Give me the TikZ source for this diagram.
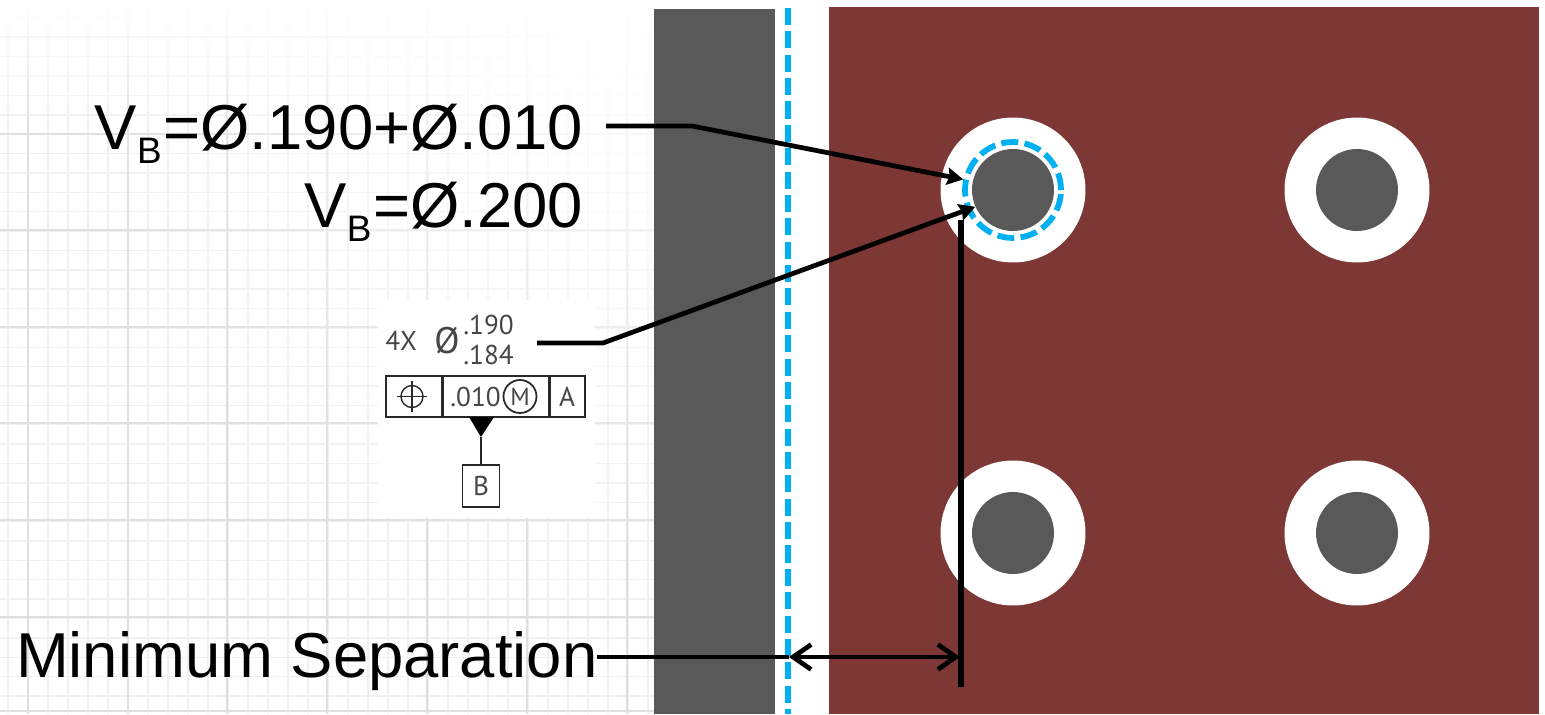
\documentclass[tikz,border=0pt]{standalone}
\usepackage{fontspec}
\setmainfont{Liberation Sans}
\newfontfamily\framefont{PT Sans}
\usepackage{tikz}
\usetikzlibrary{arrows.meta,fadings}
\definecolor{platered}{RGB}{125,55,53}
\definecolor{pingray}{RGB}{89,89,89}
\definecolor{zoneblue}{RGB}{0,176,240}
\definecolor{framegray}{RGB}{40,40,40}
\definecolor{frametext}{RGB}{70,70,70}
\tikzfading[name=gridfade,inner color=transparent!12,outer color=transparent!100]
\newcommand{\vbtext}{V\raisebox{-8.5pt}{\fontsize{21}{21}\selectfont B}\hspace{1pt}}
\tikzset{
 zonedash/.style={draw=zoneblue,line width=3.3pt,dash pattern=on 9.7pt off 3.6pt},
 hole/.style={circle,fill=white,minimum size=2.9cm,inner sep=0pt},
 pin/.style={circle,fill=pingray,minimum size=1.64cm,inner sep=0pt},
 zone/.style={circle,zonedash,minimum size=1.92cm,inner sep=0pt},
 biglabel/.style={inner sep=0pt,font=\fontsize{36.1}{36.1}\selectfont,anchor=base east},
 frametxt/.style={inner sep=0pt,text=frametext,font=\framefont\fontsize{15.5}{15.5}\selectfont},
 framecell/.style={draw=framegray,line width=1.1pt,inner sep=0pt,minimum height=.82cm},
 leader/.style={line width=2.7pt,line join=round},
 tip/.style={-{Stealth[length=.32cm,width=.34cm,inset=.04cm]}},
 dimtip/.style={{Straight Barb[length=.36cm,width=.5cm]}-{Straight Barb[length=.36cm,width=.5cm]}},
}
\begin{document}
\begin{tikzpicture}[x=0.02cm,y=-0.02cm]
\useasboundingbox (0,0) rectangle (1545,714);
\fill[white] (0,0) rectangle (1545,714);

% graph paper behind the callouts
\foreach \gx in {8,28,...,648} {
\draw[black!6,line width=.8pt] (\gx,0) -- (\gx,714);
}
\foreach \gk in {0,...,35} {
\pgfmathsetmacro{\gy}{18+19.37*\gk}
\draw[black!6,line width=.8pt] (0,\gy) -- (654,\gy);
}
\foreach \gx in {28,128,227,327,427,527,627} {
\draw[black!12,line width=1.1pt] (\gx,0) -- (\gx,714);
}
\foreach \gy in {37,134,230,327,423,520,617,711} {
\draw[black!12,line width=1.1pt] (0,\gy) -- (654,\gy);
}
\fill[white,path fading=gridfade] (600,60) circle (520);
\fill[white,path fading=south] (0,0) rectangle (654,130);
\fill[white] (378,300) rectangle (595,518);

% part and mating plate
\fill[pingray] (654,9) rectangle (775,714);
\fill[platered] (829,7) rectangle (1539,714);

% holes with pins
\foreach \hname/\hx/\hy in {a/1013/190,b/1357/190,c/1013/533,d/1357/533} {
\node[hole] (hole\hname) at (\hx,\hy) {};
\node[pin] (pin\hname) at (\hx,\hy) {};
}
\node[zone] (zonea) at (1013,190) {};

% zone edge
\coordinate (edgetop) at (788,8);
\coordinate (edgebot) at (788,714);
\draw[zonedash] (edgetop) -- (edgebot);

% callouts
\node[biglabel] (vbsum) at (583.5,149) {\vbtext=Ø.190+Ø.010};
\node[biglabel] (vbres) at (583.5,227) {\vbtext=Ø.200};
\node[biglabel] (minsep) at (598,677) {Minimum Separation};

\coordinate (sumstart) at (606,126);
\coordinate (sumbend) at (692,126);
\draw[leader,tip] (sumstart) -- (sumbend) -- (zonea.168);

\coordinate (framestart) at (537,343);
\coordinate (framebend) at (603,343);
\draw[leader,tip] (framestart) -- (framebend) -- (pina.204);

\coordinate (limittop) at (961,220);
\coordinate (limitbot) at (961,687);
\draw[line width=2.9pt] (limittop) -- (limitbot);

\coordinate (dimleft) at (789,657);
\coordinate (dimright) at (960,657);
\coordinate (sepend) at (597,657);
\draw[leader] (sepend) -- (dimleft);
\draw[leader,dimtip] (dimleft) -- (dimright);

% feature control frame
\node[frametxt,anchor=west] (framecount) at (385,341) {4X};
\node[frametxt,font=\framefont\fontsize{21}{21}\selectfont] (framedia) at (447,341) {Ø};
\node[frametxt,anchor=west] (framehi) at (463,325) {.190};
\node[frametxt,anchor=west] (framelo) at (463,355) {.184};
\node[framecell,minimum width=1.12cm] (cellsym) at (414,396.5) {};
\node[framecell,minimum width=2.14cm,anchor=west] (celltol) at (442,396.5) {};
\node[frametxt,anchor=west] (tolval) at (450,396.5) {.010};
\node[framecell,minimum width=.72cm,frametxt] (cellref) at (567,396.5) {A};
\node[circle,draw=framegray,line width=1pt,minimum size=.66cm,inner sep=0pt,frametxt,font=\framefont\fontsize{14}{14}\selectfont] (cellmod) at (520,396.5) {M};
\coordinate (symcenter) at (412,396.5);
\draw[framegray,line width=.8pt] (symcenter) circle (.22cm);
\draw[framegray,line width=.8pt] (397,396.5) -- (427,396.5);
\draw[framegray,line width=.8pt] (412,381) -- (412,412);
\coordinate (triapex) at (481,437);
\fill[black] (469,417) -- (494,417) -- (triapex) -- cycle;
\node[framecell,minimum width=.74cm,minimum height=.84cm,frametxt] (datumb) at (481,486) {B};
\draw[framegray,line width=1.3pt] (triapex) -- (datumb.north);
\end{tikzpicture}
\end{document}
